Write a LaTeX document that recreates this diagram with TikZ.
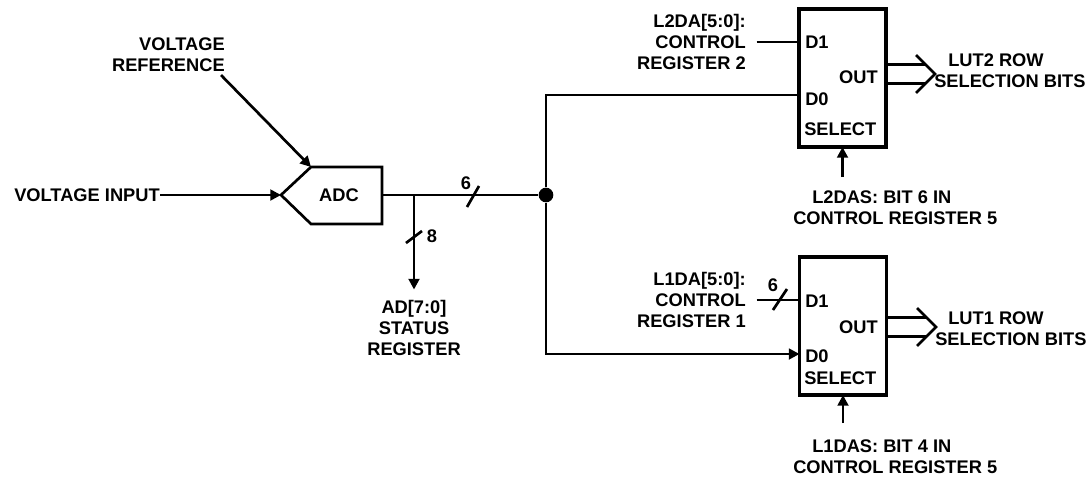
\documentclass[tikz,border=0pt]{standalone}
\usepackage{fontspec}
\setmainfont{Liberation Sans}
\usetikzlibrary{arrows.meta}

\begin{document}
\begin{tikzpicture}
        [x=0.75pt, y=-0.75pt,
        txt/.style={font=\fontsize{13.7}{15.75}\selectfont\bfseries, inner sep=0pt},
        wire/.style={line width=2pt},
        arrow/.style={wire, -{Triangle[length=8pt,width=8pt]}},
        muxbox/.style={draw, line width=2.4pt, outer sep=0pt, minimum width=65.25pt, minimum height=103.5pt},
        dot/.style={circle, fill, inner sep=0pt, minimum size=11pt}]

        \useasboundingbox (0,0) rectangle (1090,479);

        % --- ADC and its inputs ---
        \coordinate (adcin) at (281,195);
        \coordinate (adctl) at (311,167);
        \coordinate (adctr) at (382,167);
        \coordinate (adcbr) at (382,224);
        \coordinate (adcbl) at (311,224);
        \coordinate (adcout) at (382,195);
        \draw[wire, line join=miter] (adcin) -- (adctl) -- (adctr) -- (adcbr) -- (adcbl) -- cycle;
        \node[txt] (adc) at (339,195) {ADC};

        \node[txt, anchor=east] (vin) at (160,195) {VOLTAGE INPUT};
        \node[txt, anchor=east, align=right] (vref) at (225,54.5) {VOLTAGE\\REFERENCE};

        \draw[arrow] (vin.east) -- (adcin);
        \draw[arrow] ([xshift=-3pt, yshift=-2.5pt]vref.south east) -- (adctl);

        % --- ADC output bus ---
        \coordinate (tap) at (414,195);
        \node[dot] (junc) at (546,195) {};
        \node[txt, align=center] (adreg) at (414,327.5) {AD[7:0]\\STATUS\\REGISTER};

        \draw[wire] (adcout) -- (junc);
        \draw[arrow] (tap) -- ([yshift=7.5pt]adreg.north);

        % bus width marks
        \draw[wire] (467,207) -- (479,186);
        \node[txt] (w6) at (466,183) {6};
        \draw[wire] (406,243) -- (422,231);
        \node[txt] (w8) at (432,236) {8};

        % --- upper selector (LUT2) ---
        \node[muxbox] (mux2) at (842.5,78) {};
        \node[txt, anchor=west] (mux2d1l) at (805,42.5) {D1};
        \node[txt, anchor=west] (mux2d0l) at (805,99) {D0};
        \node[txt, anchor=east] (mux2outl) at (878,77.5) {OUT};
        \node[txt, anchor=west] (mux2sell) at (804,129) {SELECT};

        \coordinate (mux2d1) at (799,42);
        \coordinate (mux2d0) at (799,95);
        \coordinate (o2) at (886,74);

        \node[txt, anchor=east, align=right] (l2da) at (746,42) {L2DA[5:0]:\\CONTROL\\REGISTER 2};
        \node[txt, anchor=west, align=left] (l2das) at (793,208) {\hspace*{14.25pt}L2DAS: BIT 6 IN\\CONTROL REGISTER 5};
        \node[txt, anchor=west, align=left] (lut2) at (934,70.5) {\hspace*{10.5pt}LUT2 ROW\\SELECTION BITS};
        \coordinate (sel2) at (842.5,177);

        \draw[wire] ([xshift=8pt]l2da.east) -- (mux2d1);
        \draw[wire] (junc) |- (mux2d0);
        \draw[arrow] (sel2) -- (mux2.south);
        \draw[wire] (o2) ++(0,-9.5) -- ++(40,0);
        \draw[wire] (o2) ++(0,9.5) -- ++(40,0);
        \draw[wire] (o2) ++(30,-19) -- ++(19,19) -- ++(-19,19);

        % --- lower selector (LUT1) ---
        \node[muxbox] (mux1) at (843,326) {};
        \node[txt, anchor=west] (mux1d1l) at (805,301) {D1};
        \node[txt, anchor=west] (mux1d0l) at (805,356) {D0};
        \node[txt, anchor=east] (mux1outl) at (878,327.5) {OUT};
        \node[txt, anchor=west] (mux1sell) at (804,378.5) {SELECT};

        \coordinate (mux1d1) at (799.5,300);
        \coordinate (mux1d0) at (799.5,354);
        \coordinate (o1) at (887,327);

        \node[txt, anchor=east, align=right] (l1da) at (746,300) {L1DA[5:0]:\\CONTROL\\REGISTER 1};
        \node[txt, anchor=west, align=left] (l1das) at (793,456.5) {\hspace*{14.25pt}L1DAS: BIT 4 IN\\CONTROL REGISTER 5};
        \node[txt, anchor=west, align=left] (lut1) at (935,329) {\hspace*{9.75pt}LUT1 ROW\\SELECTION BITS};
        \coordinate (sel1) at (843,423);

        \draw[wire] ([xshift=8pt]l1da.east) -- (mux1d1);
        \draw[wire] (773,310) -- (787,289);
        \node[txt] (w6b) at (773,285) {6};
        \draw[arrow] (junc) |- (mux1d0);
        \draw[arrow] (sel1) -- (mux1.south);
        \draw[wire] (o1) ++(0,-9.5) -- ++(40,0);
        \draw[wire] (o1) ++(0,9.5) -- ++(40,0);
        \draw[wire] (o1) ++(30,-19) -- ++(19,19) -- ++(-19,19);
\end{tikzpicture}
\end{document}
